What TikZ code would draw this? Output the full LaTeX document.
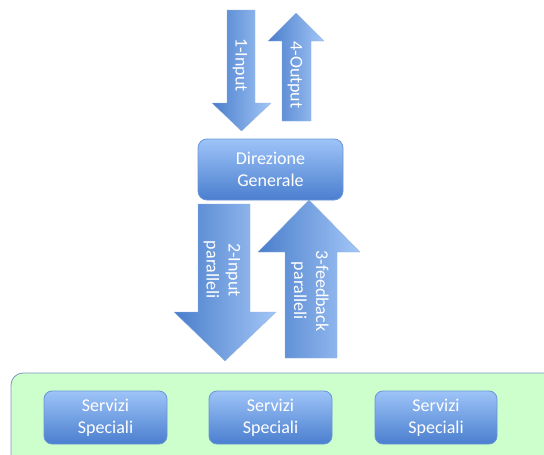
\documentclass[tikz,border=0pt]{standalone}
\usepackage{fontspec}
\setmainfont{Carlito}
\definecolor{arrdark}{HTML}{4A7ECB}
\definecolor{arrlight}{HTML}{A3C6F7}
\definecolor{boxtop}{HTML}{9EC4F8}
\definecolor{boxbot}{HTML}{4A7ECF}
\definecolor{boxedge}{HTML}{6A95D6}
\definecolor{grn}{HTML}{CCFFCC}
\definecolor{grnedge}{HTML}{7B95BE}
\tikzset{
  blockarrow/.style={left color=arrdark, right color=arrlight, draw=arrdark!60, line width=0.3pt},
  roundbox/.style={rounded corners=9pt, top color=boxtop, bottom color=boxbot, draw=boxedge, line width=0.8pt, inner sep=0pt},
  lbl/.style={text=white, font=\fontsize{18}{22}\selectfont, align=center},
}
\begin{document}
\begin{tikzpicture}[x=1pt,y=-1pt]
\useasboundingbox (0,0) rectangle (544,455);
% container
\path[fill=grn, draw=grnedge, line width=0.8pt, rounded corners=12pt] (11,373) rectangle (570,480);
% arrows
\path[blockarrow] (227,10) -- (255,10) -- (255,103) -- (271,103) -- (241.5,131) -- (212,103) -- (227,103) -- cycle;
\path[blockarrow] (282,121) -- (311,121) -- (311,41) -- (324,41) -- (296,13) -- (268,41) -- (282,41) -- cycle;
\path[blockarrow] (198,204) -- (250,204) -- (250,312) -- (276,312) -- (225,361) -- (174,312) -- (198,312) -- cycle;
\path[blockarrow] (285,358) -- (337,358) -- (337,252) -- (360,252) -- (309,200) -- (258,252) -- (285,252) -- cycle;
\node[lbl, rotate=-90] (in1) at (240,65) {1-Input};
\node[lbl, rotate=-90] (out4) at (295,75) {4-Output};
\node[lbl, rotate=-90] (in2) at (222,270) {2-Input\\paralleli};
\node[lbl, rotate=-90] (fb3) at (310,291) {3-feedback\\paralleli};
% boxes
\node[roundbox, lbl, minimum width=145pt, minimum height=61pt] (dg) at (270.5,169.5) {Direzione\\Generale};
\node[roundbox, lbl, rounded corners=8pt, minimum width=123pt, minimum height=53pt] (s1) at (105.5,417.5) {Servizi\\Speciali};
\node[roundbox, lbl, rounded corners=8pt, minimum width=123pt, minimum height=53pt] (s2) at (270.5,417.5) {Servizi\\Speciali};
\node[roundbox, lbl, rounded corners=8pt, minimum width=122pt, minimum height=53pt] (s3) at (436,417.5) {Servizi\\Speciali};
\end{tikzpicture}
\end{document}
